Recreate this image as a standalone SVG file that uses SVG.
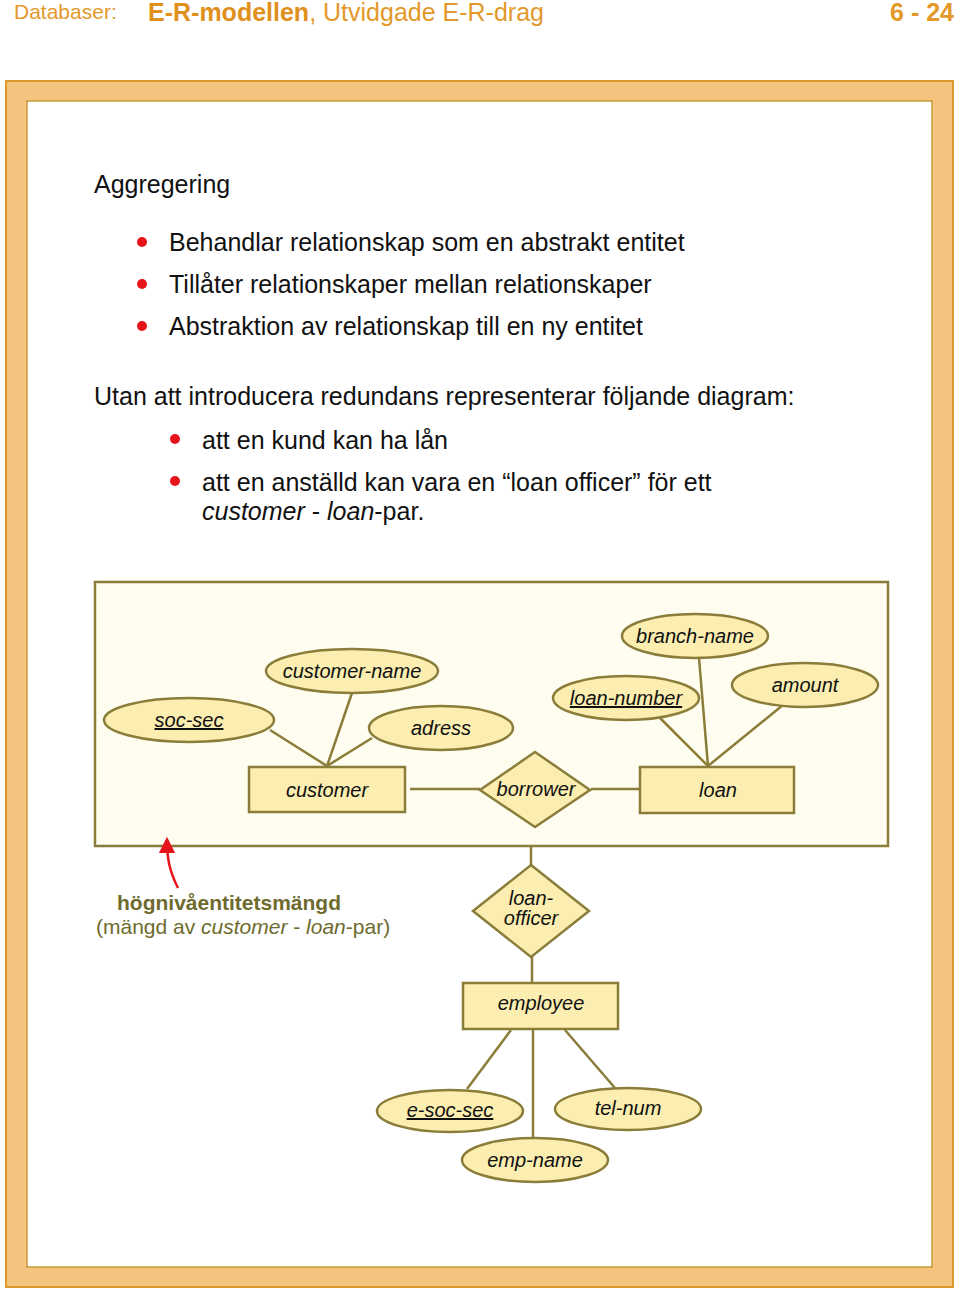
<svg xmlns="http://www.w3.org/2000/svg" width="960" height="1296" viewBox="0 0 960 1296">
<style>
.hdr{font-family:"Liberation Sans",Arial,sans-serif;fill:#e3992a}
.body{font-family:"Liberation Sans",Arial,sans-serif;font-size:25px;fill:#111}
.lbl{font-family:"Liberation Sans",Arial,sans-serif;font-size:20px;font-style:italic;fill:#111;text-anchor:middle}
.attr{fill:#fbeeb0;stroke:#8a7d3a;stroke-width:2.5}
.ent{fill:#fbeeb0;stroke:#8a7d3a;stroke-width:2.5}
.conn line{stroke:#8a7d3a;stroke-width:2.5}
.dot{fill:#e8141c}
.note{font-family:"Liberation Sans",Arial,sans-serif;font-size:21px;fill:#6e6b2e}
</style>
<defs>
<marker id="redhead" viewBox="0 0 10 10" refX="8" refY="5" markerWidth="6.5" markerHeight="6.5" orient="auto">
<path d="M0,0 L10,5 L0,10 z" fill="#e8141c"/>
</marker>
</defs>
<rect width="960" height="1296" fill="#fff"/>
<g id="header">
<text class="hdr" x="14" y="19" font-size="21">Databaser:</text>
<text class="hdr" x="148" y="21" font-size="25"><tspan font-weight="bold" fill="#e0901c">E-R-modellen</tspan>, Utvidgade E-R-drag</text>
<text class="hdr" x="954" y="21" font-size="25" font-weight="bold" text-anchor="end" fill="#e0901c">6 - 24</text>
</g>
<g id="frame">
<rect x="6" y="81" width="947" height="1206" fill="#f4c47e" stroke="#d9992a" stroke-width="2"/>
<rect x="27" y="101" width="905" height="1166" fill="#fff" stroke="#c89a3a" stroke-width="1.5"/>
</g>
<g id="text">
<text class="body" x="94" y="193">Aggregering</text>
<circle class="dot" cx="142" cy="242" r="5"/>
<text class="body" x="169" y="251">Behandlar relationskap som en abstrakt entitet</text>
<circle class="dot" cx="142" cy="284" r="5"/>
<text class="body" x="169" y="293">Tillåter relationskaper mellan relationskaper</text>
<circle class="dot" cx="142" cy="326" r="5"/>
<text class="body" x="169" y="335">Abstraktion av relationskap till en ny entitet</text>
<text class="body" x="94" y="405">Utan att introducera redundans representerar följande diagram:</text>
<circle class="dot" cx="175" cy="439" r="5"/>
<text class="body" x="202" y="449">att en kund kan ha lån</text>
<circle class="dot" cx="175" cy="481" r="5"/>
<text class="body" x="202" y="491">att en anställd kan vara en “loan officer” för ett</text>
<text class="body" x="202" y="520"><tspan font-style="italic">customer</tspan> - <tspan font-style="italic">loan</tspan>-par.</text>
</g>
<g id="aggregation-box">
<rect x="95" y="582" width="793" height="264" fill="#fffdf0" stroke="#8a7d3a" stroke-width="2.5"/>
</g>
<g class="conn" id="connectors">
<line x1="270" y1="730" x2="327" y2="766"/>
<line x1="352" y1="693" x2="327" y2="766"/>
<line x1="372" y1="738" x2="327" y2="766"/>
<line x1="410" y1="789" x2="480" y2="789"/>
<line x1="591" y1="789" x2="640" y2="789"/>
<line x1="660" y1="718" x2="708" y2="766"/>
<line x1="699" y1="658" x2="708" y2="766"/>
<line x1="783" y1="705" x2="708" y2="766"/>
<line x1="531" y1="846" x2="531" y2="865"/>
<line x1="532" y1="957" x2="532" y2="983"/>
<line x1="511" y1="1030" x2="467" y2="1089"/>
<line x1="533" y1="1030" x2="533" y2="1138"/>
<line x1="565" y1="1030" x2="615" y2="1088"/>
</g>
<g id="soc-sec"><ellipse class="attr" cx="189" cy="720" rx="85" ry="22"/><text class="lbl" x="189" y="727" text-decoration="underline">soc-sec</text></g>
<g id="customer-name"><ellipse class="attr" cx="352" cy="671" rx="86" ry="22"/><text class="lbl" x="352" y="678">customer-name</text></g>
<g id="adress"><ellipse class="attr" cx="441" cy="728" rx="72" ry="22"/><text class="lbl" x="441" y="735">adress</text></g>
<g id="customer"><rect class="ent" x="249" y="767" width="156" height="45"/><text class="lbl" x="327" y="797">customer</text></g>
<g id="borrower"><polygon class="ent" points="535,752 590,790 535,827 480,790"/><text class="lbl" x="536" y="796">borrower</text></g>
<g id="loan"><rect class="ent" x="640" y="767" width="154" height="46"/><text class="lbl" x="718" y="797">loan</text></g>
<g id="branch-name"><ellipse class="attr" cx="695" cy="636" rx="73" ry="22"/><text class="lbl" x="695" y="643">branch-name</text></g>
<g id="loan-number"><ellipse class="attr" cx="626" cy="698" rx="73" ry="22"/><text class="lbl" x="626" y="705" text-decoration="underline">loan-number</text></g>
<g id="amount"><ellipse class="attr" cx="805" cy="685" rx="73" ry="22"/><text class="lbl" x="805" y="692">amount</text></g>
<g id="loan-officer"><polygon class="ent" points="531,865 589,911 531,957 473,911"/><text class="lbl" x="531" y="905">loan-</text><text class="lbl" x="531" y="925">officer</text></g>
<g id="employee"><rect class="ent" x="463" y="983" width="155" height="46"/><text class="lbl" x="541" y="1010">employee</text></g>
<g id="e-soc-sec"><ellipse class="attr" cx="450" cy="1111" rx="73" ry="21"/><text class="lbl" x="450" y="1117" text-decoration="underline">e-soc-sec</text></g>
<g id="tel-num"><ellipse class="attr" cx="628" cy="1109" rx="73" ry="21"/><text class="lbl" x="628" y="1115">tel-num</text></g>
<g id="emp-name"><ellipse class="attr" cx="535" cy="1160" rx="73" ry="22"/><text class="lbl" x="535" y="1167">emp-name</text></g>
<g id="annotation">
<path d="M178,888 C170,872 167,860 167,840" fill="none" stroke="#e8141c" stroke-width="2.5" marker-end="url(#redhead)"/>
<text class="note" x="229" y="910" font-weight="bold" text-anchor="middle">högnivåentitetsmängd</text>
<text class="note" x="96" y="934">(mängd av <tspan font-style="italic">customer</tspan> - <tspan font-style="italic">loan</tspan>-par)</text>
</g>
</svg>
